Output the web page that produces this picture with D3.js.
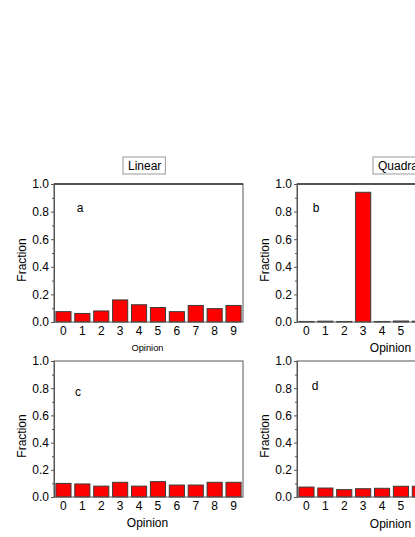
<!DOCTYPE html>
<html lang="en">
<head>
  <meta charset="UTF-8">
  <title>Opinion fractions</title>
  <style>
    body { margin: 0; background: #fff; }
    svg text { font-family: "Liberation Sans", Arial, sans-serif; fill: #000; }
  </style>
</head>
<body>
  <script src="https://d3js.org/d3.v7.min.js"></script>
  <div id="chart"></div>

  <script>
    // data
    const opinions = ['0', '1', '2', '3', '4', '5', '6', '7', '8', '9']
    const linearTop = [0.075, 0.062, 0.08, 0.16, 0.125, 0.105, 0.075, 0.12, 0.097, 0.12]
    const quadTop = [0.004, 0.006, 0.004, 0.94, 0.004, 0.007, 0.006, 0.006, 0.007, 0.006]
    const linearBottom = [0.1, 0.096, 0.08, 0.108, 0.08, 0.113, 0.088, 0.088, 0.108, 0.108]
    const quadBottom = [0.073, 0.066, 0.054, 0.061, 0.064, 0.079, 0.079, 0.07, 0.072, 0.068]
    const columnTitles = ['Linear', 'Quadratic']
    const panelLetters = ['a', 'b', 'c', 'd']
    const yTicks = [0, 0.2, 0.4, 0.6, 0.8, 1.0]

    const svg = d3.select('#chart')
      .append('svg')
      .attr('width', 415)
      .attr('height', 537)

    // column title boxes
    const titleBoxes = [
      { x: 123, y: 157, text: columnTitles[0] },
      { x: 373, y: 157, text: columnTitles[1] }
    ]
    titleBoxes.forEach(b => {
      const g = svg.append('g').attr('transform', `translate(${b.x}, ${b.y})`)
      const t = g.append('text')
        .attr('x', 5)
        .attr('y', 12.5)
        .attr('font-size', 12)
        .text(b.text)
      const w = t.node().getComputedTextLength()
      g.insert('rect', 'text')
        .attr('width', w + 9)
        .attr('height', 17)
        .attr('fill', '#fff')
        .attr('stroke', '#999')
    })

    const panels = [
      { data: linearTop, left: 54, top: 184, h: 138, letter: panelLetters[0], lx: 80, ly: 212, xl: 9.3, xly: 351 },
      { data: quadTop, left: 297, top: 184, h: 138, letter: panelLetters[1], lx: 316, ly: 212, xl: 12, xly: 352 },
      { data: linearBottom, left: 54, top: 361, h: 136, letter: panelLetters[2], lx: 78, ly: 396, xl: 12, xly: 527 },
      { data: quadBottom, left: 297, top: 361, h: 136, letter: panelLetters[3], lx: 315, ly: 390, xl: 12, xly: 528 }
    ]
    const panelW = 189

    panels.forEach((p, i) => {
      const g = svg.append('g')

      const x = d3.scaleBand()
        .domain(opinions)
        .range([p.left, p.left + panelW])
        .paddingInner(0.2)
        .paddingOuter(0.1)

      const y = d3.scaleLinear()
        .domain([0, 1])
        .range([p.top + p.h, p.top])

      // bars
      g.selectAll('rect.bar')
        .data(p.data)
        .join('rect')
        .classed('bar', true)
        .attr('x', (d, j) => x(opinions[j]))
        .attr('y', d => y(d))
        .attr('width', x.bandwidth())
        .attr('height', d => y(0) - y(d))
        .attr('fill', '#ff0000')
        .attr('stroke', '#3a3a3a')
        .attr('stroke-width', 1)

      // frame
      g.append('rect')
        .attr('x', p.left)
        .attr('y', p.top)
        .attr('width', panelW)
        .attr('height', p.h)
        .attr('fill', 'none')
        .attr('stroke', '#555')
      if (i < 2) {
        g.append('line')
          .attr('x1', p.left).attr('x2', p.left + panelW)
          .attr('y1', p.top).attr('y2', p.top)
          .attr('stroke', '#000')
      }

      // y axis, major + minor
      const yAxis = g.append('g')
        .attr('transform', `translate(${p.left}, 0)`)
        .call(d3.axisLeft(y).tickValues(yTicks).tickSize(3).tickPadding(2).tickFormat(d3.format('.1f')))
      yAxis.select('.domain').attr('stroke', '#555')
      yAxis.selectAll('.tick line').attr('stroke', '#555')
      yAxis.selectAll('text').attr('font-size', 12).attr('font-family', '"Liberation Sans", Arial, sans-serif')

      const minor = g.append('g')
        .attr('transform', `translate(${p.left}, 0)`)
        .call(d3.axisLeft(y).tickValues([0.1, 0.3, 0.5, 0.7, 0.9]).tickSize(2).tickFormat(''))
      minor.select('.domain').remove()
      minor.selectAll('.tick line').attr('stroke', '#555')

      // x axis labels only
      const xAxis = g.append('g')
        .attr('transform', `translate(0, ${p.top + p.h})`)
        .call(d3.axisBottom(x).tickSize(0).tickPadding(4))
      xAxis.select('.domain').remove()
      xAxis.selectAll('text').attr('font-size', 12).attr('font-family', '"Liberation Sans", Arial, sans-serif')

      // axis titles
      g.append('text')
        .attr('transform', `translate(${p.left - 28}, ${p.top + p.h / 2 + 7}) rotate(-90)`)
        .attr('text-anchor', 'middle')
        .attr('font-size', 12)
        .text('Fraction')

      g.append('text')
        .attr('x', p.left + panelW / 2 - 1)
        .attr('y', p.xly)
        .attr('text-anchor', 'middle')
        .attr('font-size', p.xl)
        .text('Opinion')

      g.append('text')
        .attr('x', p.lx)
        .attr('y', p.ly)
        .attr('text-anchor', 'middle')
        .attr('font-size', 12)
        .text(p.letter)
    })
  </script>
</body>
</html>
